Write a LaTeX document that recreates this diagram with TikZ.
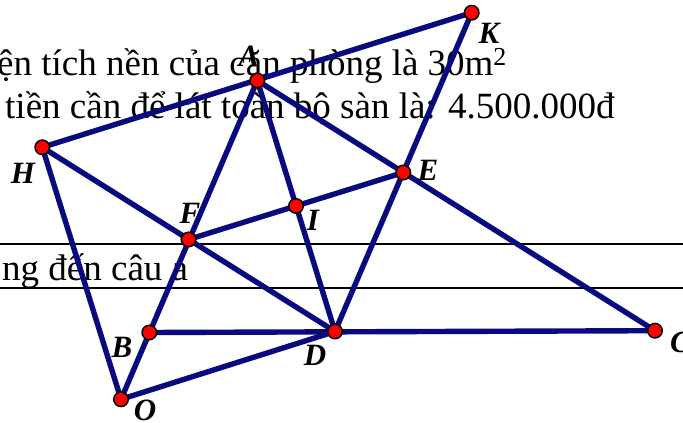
\documentclass[tikz,border=0pt]{standalone}
\usepackage{fontspec}
\setmainfont{Liberation Serif}
\begin{document}
\begin{tikzpicture}[x=1pt,y=-1pt,
  seg/.style={draw={rgb,255:red,10;green,10;blue,128},line width=5.4pt,line cap=round},
  pt/.style={circle,fill=red,draw=black,line width=1.5pt,minimum size=14.5pt,inner sep=0pt},
  lbl/.style={font=\fontsize{31}{31}\selectfont\bfseries\itshape,inner sep=0pt},
  txt/.style={font=\fontsize{37}{37}\selectfont,anchor=base west,inner sep=0pt},
  rule/.style={draw=black,line width=1.4pt}]
\useasboundingbox (0,0) rectangle (683,423);
\clip (0,0) rectangle (683,423);
% background text
\node[lbl] (lA) at (249,56) {A};
\node[txt] (t1) at (-3,75) {ện tích nền của căn phòng là 30m\textsuperscript{2}};
\node[txt] (t2) at (5,118) {tiền cần để lát toàn bộ sàn là: 4.500.000đ};
\node[txt] (t3) at (2,280) {ng đến câu a};
\coordinate (r1a) at (0,244); \coordinate (r1b) at (683,244);
\coordinate (r2a) at (0,288); \coordinate (r2b) at (683,288);
\draw[rule] (r1a) -- (r1b);
\draw[rule] (r2a) -- (r2b);
% points
\coordinate (K) at (471.7,12.7);
\coordinate (A) at (257.3,80.5);
\coordinate (H) at (42.3,147.3);
\coordinate (F) at (188.5,239.5);
\coordinate (I) at (296,206);
\coordinate (E) at (403.3,172.5);
\coordinate (B) at (149.3,332.5);
\coordinate (D) at (335,331.5);
\coordinate (O) at (121,399.3);
\coordinate (C) at (655,330.7);
% segments
\draw[seg] (H) -- (K);
\draw[seg] (A) -- (C);
\draw[seg] (A) -- (O);
\draw[seg] (A) -- (D);
\draw[seg] (H) -- (D);
\draw[seg] (H) -- (O);
\draw[seg] (O) -- (D);
\draw[seg] (B) -- (C);
\draw[seg] (F) -- (E);
\draw[seg] (D) -- (K);
% dots
\foreach \p in {K,A,H,F,I,E,B,D,O,C} \node[pt] (p\p) at (\p) {};
% labels
\node[lbl] (lK) at (489,33) {K};
\node[lbl] (lH) at (23,173) {H};
\node[lbl] (lF) at (190,213) {F};
\node[lbl] (lI) at (313,220) {I};
\node[lbl] (lE) at (428,170) {E};
\node[lbl] (lB) at (122,347) {B};
\node[lbl] (lD) at (315,355) {D};
\node[lbl] (lO) at (145,410) {O};
\node[lbl,anchor=west] (lC) at (670,342) {C};
\end{tikzpicture}
\end{document}
